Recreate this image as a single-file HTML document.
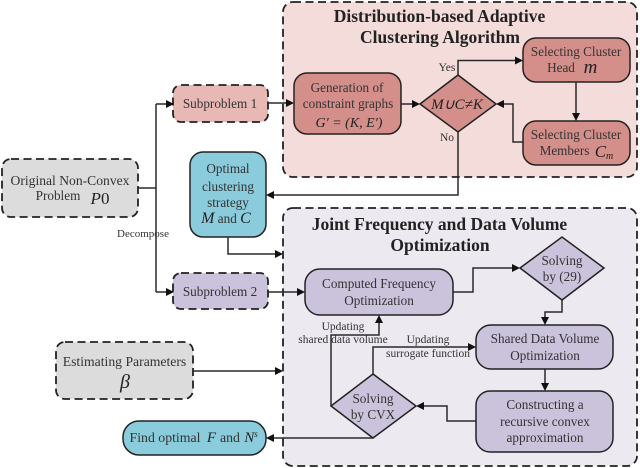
<!DOCTYPE html>
<html>
<head>
<meta charset="utf-8">
<style>
html,body{margin:0;padding:0;background:#fff;width:640px;height:468px;overflow:hidden}
svg{display:block;filter:blur(0.35px)}
text{font-family:"Liberation Serif",serif;fill:#333;text-anchor:middle}
.t{font-size:13.2px}
.s{font-size:11.5px}
.h{font-size:17.5px;font-weight:bold;fill:#222}
.m{font-style:italic;fill:#222}
.b{stroke:#222;stroke-width:1.5}
.d{stroke:#222;stroke-width:1.8;stroke-dasharray:8 4.5}
.l{fill:none;stroke:#2a2a2a;stroke-width:1.5}
.a{fill:#111;stroke:none}
</style>
</head>
<body>
<svg width="640" height="468" viewBox="0 0 640 468" xmlns="http://www.w3.org/2000/svg">
<rect x="283" y="2" width="354" height="175" rx="10" fill="#f3dcda" class="d"/>
<rect x="283" y="208" width="354" height="258" rx="10" fill="#ece9f1" class="d"/>
<rect x="2" y="159" width="136" height="58" rx="9" fill="#dcdcdc" class="d"/>
<rect x="173" y="85" width="95" height="37" rx="8" fill="#e8b8b4" class="d"/>
<rect x="173" y="273" width="95" height="36" rx="8" fill="#cbc2dc" class="d"/>
<rect x="56" y="342" width="137" height="57" rx="9" fill="#dcdcdc" class="d"/>

<rect x="190" y="152" width="76" height="85" rx="13" fill="#8accdb" class="b"/>
<rect x="123" y="421" width="143" height="34" rx="16" fill="#8accdb" class="b"/>
<rect x="294" y="73" width="107" height="61" rx="13" fill="#d48f8b" class="b"/>
<rect x="523" y="38" width="107" height="44" rx="13" fill="#d48f8b" class="b"/>
<rect x="523" y="121" width="107" height="44" rx="13" fill="#d48f8b" class="b"/>
<polygon points="420,104 458,75 496,104 458,132" fill="#d48f8b" class="b"/>
<rect x="305" y="269" width="148" height="46" rx="15" fill="#cbc2dc" class="b"/>
<rect x="476" y="325" width="137" height="44" rx="15" fill="#cbc2dc" class="b"/>
<rect x="476" y="391" width="137" height="61" rx="14" fill="#cbc2dc" class="b"/>
<polygon points="520,268 562,237 604,268 562,300" fill="#cbc2dc" class="b"/>
<polygon points="331,406 373,374 416,406 373,438" fill="#cbc2dc" class="b"/>

<path class="l" d="M138 188H156M156 104V292M156 104H168M156 292H168"/>
<polygon class="a" points="174,104 166,100 166,108"/>
<polygon class="a" points="174,292 166,288 166,296"/>
<path class="l" d="M268 103H290"/>
<polygon class="a" points="294,103 286,99 286,107"/>
<path class="l" d="M401 104H415"/>
<polygon class="a" points="420,104 412,100 412,108"/>
<path class="l" d="M458 75V60.500H518"/>
<polygon class="a" points="523,60.500 515,56.500 515,64.500"/>
<path class="l" d="M576 82V116"/>
<polygon class="a" points="576,121 572,113 580,113"/>
<path class="l" d="M523 142H513V104H500"/>
<polygon class="a" points="496,104 504,100 504,108"/>
<path class="l" d="M458 132V195H272"/>
<polygon class="a" points="266,195 274,191 274,199"/>
<path class="l" d="M228 237V254H278"/>
<polygon class="a" points="283,254 275,250 275,258"/>
<path class="l" d="M268 292H300"/>
<polygon class="a" points="305,292 297,288 297,296"/>
<path class="l" d="M193 371H278"/>
<polygon class="a" points="283,371 275,367 275,375"/>
<path class="l" d="M453 292H473V268H515"/>
<polygon class="a" points="520,268 512,264 512,272"/>
<path class="l" d="M562 300V312H545V320"/>
<polygon class="a" points="545,325 541,317 549,317"/>
<path class="l" d="M545 369V386"/>
<polygon class="a" points="545,391 541,383 549,383"/>
<path class="l" d="M476 421H447V406H421"/>
<polygon class="a" points="416,406 424,402 424,410"/>
<path class="l" d="M331 406V335H379V320"/>
<polygon class="a" points="379,315 375,323 383,323"/>
<path class="l" d="M373 374V347H471"/>
<polygon class="a" points="476,347 468,343 468,351"/>
<path class="l" d="M373 438H272"/>
<polygon class="a" points="266,438 274,434 274,442"/>

<text class="h" x="439.500" y="22">Distribution-based Adaptive</text>
<text class="h" x="440" y="43">Clustering Algorithm</text>
<text class="h" x="439.500" y="230">Joint Frequency and Data Volume</text>
<text class="h" x="440" y="251">Optimization</text>

<text class="t" x="70" y="185" style="font-size:13.6px">Original Non-Convex</text>
<text class="t" x="58" y="200">Problem</text>
<text class="m" x="100" y="204" font-size="17">P<tspan font-style="normal">0</tspan></text>
<text class="t" x="220" y="108">Subproblem 1</text>
<text class="t" x="220" y="296">Subproblem 2</text>
<text class="t" x="143" y="237" style="font-size:11px">Decompose</text>
<text class="t" x="228" y="173">Optimal</text>
<text class="t" x="228" y="191">clustering</text>
<text class="t" x="228" y="207">strategy</text>
<text class="t" x="226" y="223"><tspan class="m" font-size="16">M</tspan> and <tspan class="m" font-size="16">C</tspan></text>

<text class="t" x="347" y="92">Generation of</text>
<text class="t" x="348" y="108">constraint graphs</text>
<text class="m" x="349" y="127" font-size="14">G′ = (K, E′)</text>
<text class="m" x="457" y="109" font-size="15">M∪C≠K</text>
<text class="s" x="447" y="71">Yes</text>
<text class="s" x="447" y="141">No</text>
<text class="t" x="576" y="56">Selecting Cluster</text>
<text class="t" x="561" y="72">Head</text>
<text class="m" x="590.500" y="73" font-size="19">m</text>
<text class="t" x="576" y="139">Selecting Cluster</text>
<text class="t" x="564.500" y="155">Members</text>
<text class="m" x="604" y="157" font-size="17">C<tspan font-size="10" dy="2">m</tspan></text>

<text class="t" x="379" y="288">Computed Frequency</text>
<text class="t" x="379" y="305">Optimization</text>
<text class="t" x="562" y="265">Solving</text>
<text class="t" x="562" y="281">by (29)</text>
<text class="t" x="545" y="343">Shared Data Volume</text>
<text class="t" x="545" y="360">Optimization</text>
<text class="t" x="545" y="409">Constructing a</text>
<text class="t" x="545" y="426">recursive convex</text>
<text class="t" x="545" y="442">approximation</text>
<text class="t" x="373" y="403">Solving</text>
<text class="t" x="373" y="419">by CVX</text>
<text class="s" x="343" y="330">Updating</text>
<text class="s" x="343" y="343">shared data volume</text>
<text class="s" x="428" y="343">Updating</text>
<text class="s" x="428" y="357">surrogate function</text>

<text class="t" x="124.500" y="366" style="font-size:13.7px">Estimating Parameters</text>
<text class="m" x="125" y="388" font-size="20">β</text>
<text class="t" x="165" y="442" style="font-size:13.8px">Find optimal</text>
<text class="m" x="211.500" y="442" font-size="15">F</text>
<text class="t" x="230" y="442" style="font-size:13.8px">and</text>
<text class="m" x="251" y="442" font-size="15">N<tspan font-size="9" dy="-5">s</tspan></text>
</svg>
</body>
</html>
